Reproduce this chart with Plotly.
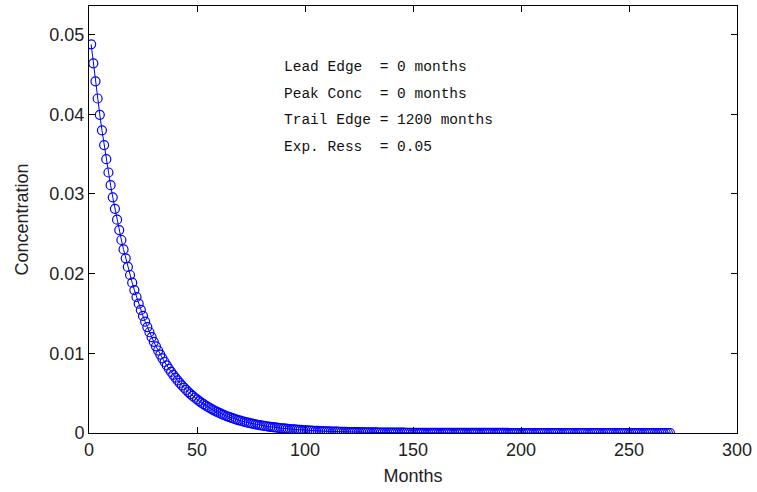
import plotly.graph_objects as go

# Concentration values (one per month, starting at month 1)
conc = [
    0.048766, 0.046387, 0.044125, 0.041973, 0.039926, 0.037979, 0.036126, 0.034364, 0.032689, 0.031094,
    0.029578, 0.028135, 0.026763, 0.025458, 0.024216, 0.023035, 0.021912, 0.020843, 0.019827, 0.018860,
    0.017940, 0.017065, 0.016233, 0.015441, 0.014688, 0.013971, 0.013290, 0.012642, 0.012026, 0.011439,
    0.010881, 0.010350, 0.009846, 0.009365, 0.008909, 0.008474, 0.008061, 0.007668, 0.007294, 0.006938,
    0.006600, 0.006278, 0.005972, 0.005680, 0.005404, 0.005140, 0.004889, 0.004651, 0.004424, 0.004208,
    0.004003, 0.003808, 0.003622, 0.003445, 0.003278, 0.003118, 0.002965, 0.002821, 0.002683, 0.002552,
    0.002428, 0.002310, 0.002197, 0.002090, 0.001988, 0.001891, 0.001798, 0.001711, 0.001627, 0.001548,
    0.001473, 0.001401, 0.001333, 0.001268, 0.001206, 0.001147, 0.001091, 0.001038, 0.000987, 0.000939,
    0.000893, 0.000850, 0.000809, 0.000769, 0.000731, 0.000696, 0.000662, 0.000630, 0.000599, 0.000570,
    0.000542, 0.000516, 0.000491, 0.000466, 0.000443, 0.000422, 0.000402, 0.000382, 0.000363, 0.000346,
    0.000329, 0.000313, 0.000298, 0.000283, 0.000269, 0.000256, 0.000244, 0.000232, 0.000220, 0.000210,
    0.000199, 0.000190, 0.000181, 0.000172, 0.000163, 0.000155, 0.000148, 0.000141, 0.000134, 0.000127,
    0.000121, 0.000115, 0.000110, 0.000104, 0.000099, 0.000094, 0.000090, 0.000085, 0.000081, 0.000077,
    0.000073, 0.000070, 0.000067, 0.000063, 0.000060, 0.000057, 0.000054, 0.000052, 0.000049, 0.000047,
    0.000044, 0.000042, 0.000040, 0.000038, 0.000036, 0.000035, 0.000033, 0.000031, 0.000030, 0.000028,
    0.000027, 0.000026, 0.000024, 0.000023, 0.000022, 0.000021, 0.000020, 0.000019, 0.000018, 0.000017,
    0.000016, 0.000016, 0.000015, 0.000014, 0.000013, 0.000013, 0.000012, 0.000011, 0.000011, 0.000010,
    0.0000099, 0.0000095, 0.0000090, 0.0000086, 0.0000082, 0.0000078, 0.0000074, 0.0000070, 0.0000067, 0.0000064,
    0.0000060, 0.0000058, 0.0000055, 0.0000052, 0.0000050, 0.0000047, 0.0000045, 0.0000042, 0.0000041, 0.0000039,
    0.0000036, 0.0000035, 0.0000033, 0.0000032, 0.0000030, 0.0000029, 0.0000027, 0.0000025, 0.0000025, 0.0000024,
    0.0000022, 0.0000021, 0.0000020, 0.0000019, 0.0000018, 0.0000017, 0.0000016, 0.0000015, 0.0000015, 0.0000014,
    0.0000013, 0.0000013, 0.0000012, 0.0000012, 0.0000011, 0.0000010, 0.0000010, 0.00000091, 0.00000091, 0.00000085,
    0.00000079, 0.00000079, 0.00000073, 0.00000073, 0.00000067, 0.00000061, 0.00000061, 0.00000055, 0.00000055, 0.00000052,
    0.00000048, 0.00000048, 0.00000044, 0.00000044, 0.00000041, 0.00000037, 0.00000037, 0.00000033, 0.00000033, 0.00000032,
    0.00000029, 0.00000029, 0.00000027, 0.00000027, 0.00000025, 0.00000022, 0.00000022, 0.00000020, 0.00000020, 0.00000019,
    0.00000018, 0.00000018, 0.00000016, 0.00000016, 0.00000015, 0.00000013, 0.00000013, 0.00000012, 0.00000012, 0.00000012,
    0.00000011, 0.00000011, 0.00000010, 0.00000010, 0.00000009, 0.00000008, 0.00000008, 0.00000007, 0.00000007,
]
months = list(range(1, len(conc) + 1))

x_ticks = [0, 50, 100, 150, 200, 250, 300]
y_ticks = [0, 0.01, 0.02, 0.03, 0.04, 0.05]
y_tick_labels = ["0", "0.01", "0.02", "0.03", "0.04", "0.05"]

info_lines = [
    "Lead Edge  = 0 months",
    "Peak Conc  = 0 months",
    "Trail Edge = 1200 months",
    "Exp. Ress  = 0.05",
]

fig = go.Figure()
fig.add_trace(go.Scatter(
    x=months, y=conc, mode="lines+markers",
    line=dict(color="#0000ff", width=1),
    marker=dict(symbol="circle-open", size=9, color="#0000ff", line=dict(width=1.2, color="#0000ff")),
    showlegend=False,
))

axis_font = dict(family="Liberation Sans, Arial, sans-serif", size=18, color="#222222")
common = dict(
    showgrid=False, zeroline=False, showline=True, linecolor="black", linewidth=1,
    mirror="ticks", ticks="inside", ticklen=6, tickcolor="black", tickwidth=1,
    tickfont=axis_font, automargin=False,
)
fig.update_xaxes(range=[0, 300], tickvals=x_ticks, title=dict(text="Months", font=axis_font, standoff=10), **common)
fig.update_yaxes(range=[0, 0.05358], tickvals=y_ticks, ticktext=y_tick_labels,
                 title=dict(text="Concentration", font=axis_font, standoff=16), **common)

y_pos = [0.857, 0.795, 0.733, 0.669]
for txt, yp in zip(info_lines, y_pos):
    fig.add_annotation(
        x=0.298, y=yp, xref="paper", yref="paper", xanchor="left", yanchor="middle",
        text=txt.replace(" ", "\u00a0"), showarrow=False,
        font=dict(family="Liberation Mono, DejaVu Sans Mono, monospace", size=14.5, color="#111111"),
    )

fig.update_layout(
    width=757, height=492,
    margin=dict(l=89, r=20, t=6, b=59),
    plot_bgcolor="white", paper_bgcolor="white",
)
fig.write_html("out.html", config={"displayModeBar": False},
               post_script="document.body.style.margin='0px';")
